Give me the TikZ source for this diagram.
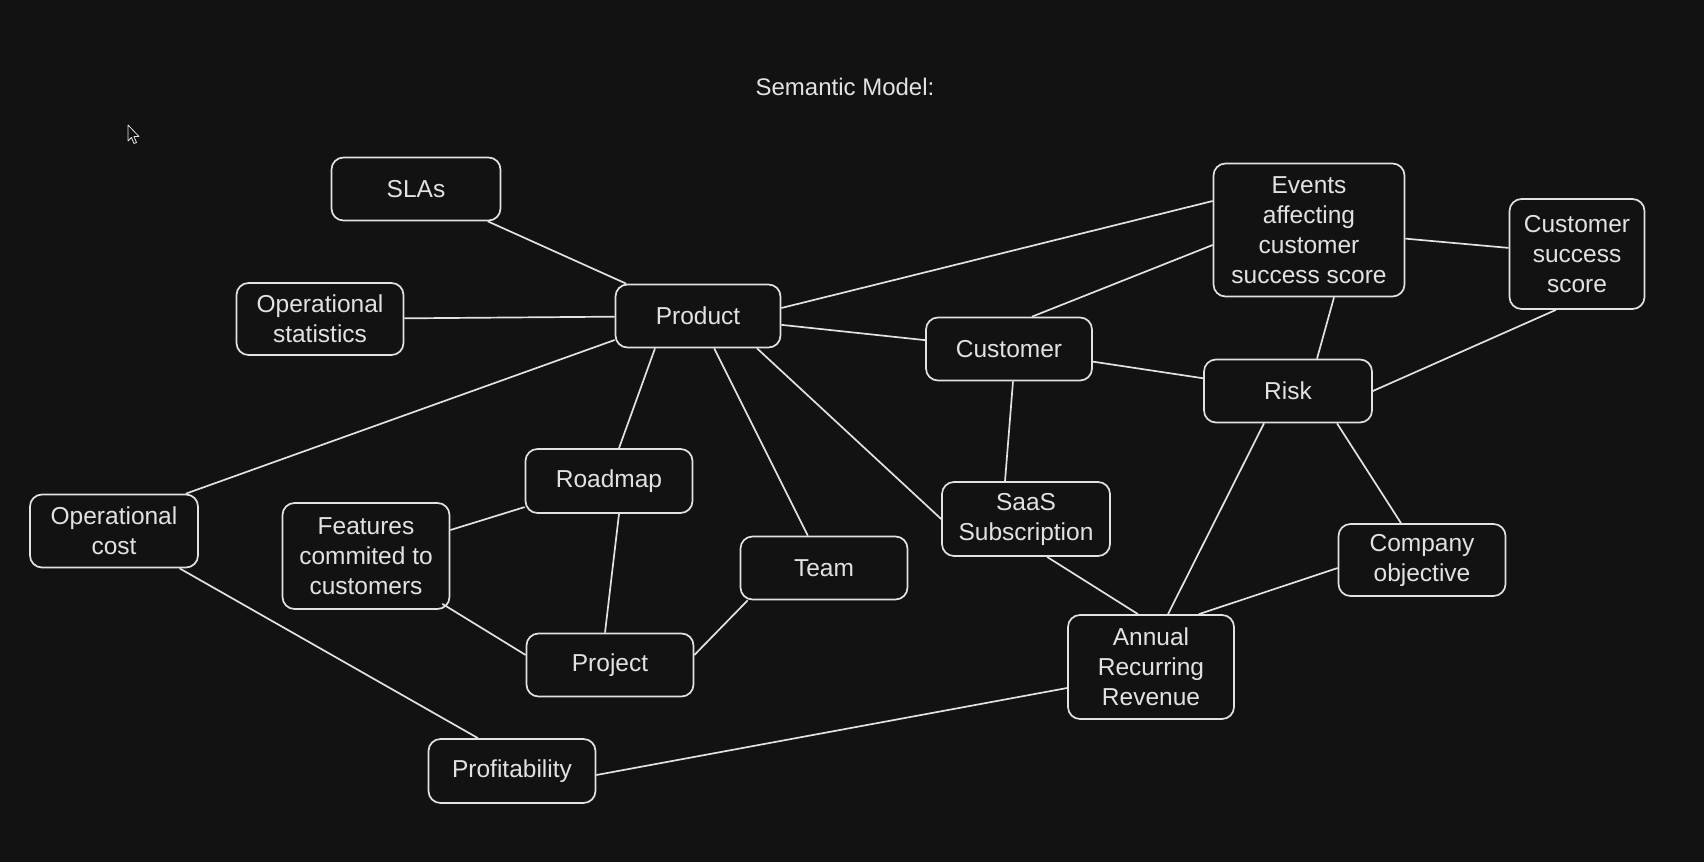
\documentclass[tikz,border=0pt]{standalone}
\usepackage{fontspec}
\setmainfont{Liberation Sans}
\definecolor{bg}{HTML}{121212}
\definecolor{fg}{HTML}{E2E2E2}
\begin{document}
\begin{tikzpicture}[x=1pt,y=-1pt,
  box/.style={draw=fg, line width=1.7pt, rounded corners=12pt, fill=bg, text=fg,
    align=center, font=\fontsize{24.5}{30}\selectfont, inner sep=2pt},
  link/.style={draw=fg, line width=1.7pt}]
\fill[bg] (0,0) rectangle (1704,862);
\useasboundingbox (0,0) rectangle (1704,862);

\node[text=fg, font=\fontsize{24}{28}\selectfont] (title) at (845,87) {Semantic Model:};

\node[box, minimum width=169pt, minimum height=63pt] (slas) at (416,189) {SLAs};
\node[box, minimum width=167pt, minimum height=72pt] (opstats) at (320,319) {Operational\\statistics};
\node[box, minimum width=165pt, minimum height=63pt] (product) at (698,316) {Product};
\node[box, minimum width=168pt, minimum height=73pt] (opcost) at (114,531) {Operational\\cost};
\node[box, minimum width=167pt, minimum height=106pt] (features) at (366,556) {Features\\commited to\\customers};
\node[box, minimum width=167pt, minimum height=64pt] (roadmap) at (609,481) {Roadmap};
\node[box, minimum width=167pt, minimum height=63pt] (project) at (610,665) {Project};
\node[box, minimum width=167pt, minimum height=63pt] (team) at (824,568) {Team};
\node[box, minimum width=167pt, minimum height=64pt] (profit) at (512,771) {Profitability};
\node[box, minimum width=166pt, minimum height=63pt] (customer) at (1009,349) {Customer};
\node[box, minimum width=168pt, minimum height=74pt] (saas) at (1026,519) {SaaS\\Subscription};
\node[box, minimum width=191pt, minimum height=133pt] (events) at (1309,230) {Events\\affecting\\customer\\success score};
\node[box, minimum width=135pt, minimum height=110pt] (css) at (1577,254) {Customer\\success\\score};
\node[box, minimum width=168pt, minimum height=63pt] (risk) at (1288,391) {Risk};
\node[box, minimum width=167pt, minimum height=72pt] (compobj) at (1422,560) {Company\\objective};
\node[box, minimum width=166pt, minimum height=104pt] (arr) at (1151,667) {Annual\\Recurring\\Revenue};

\draw[link] (slas) -- (product);
\draw[link] (opstats) -- (product);
\draw[link] ([xshift=-13pt]opcost.north east) -- ([yshift=-24pt]product.west);
\draw[link] ([xshift=-43pt]product.south) -- ([xshift=10pt]roadmap.north);
\draw[link] (product) -- (team);
\draw[link] ([xshift=59pt]product.south) -- (saas.west);
\draw[link] (product) -- (customer);
\draw[link] ([yshift=8pt]product.east) -- ([yshift=29pt]events.west);
\draw[link] (roadmap) -- (features);
\draw[link] ([xshift=10pt]roadmap.south) -- ([xshift=-5pt]project.north);
\draw[link] ([xshift=-8pt,yshift=6pt]features.south east) -- ([yshift=10pt]project.west);
\draw[link] ([yshift=10pt]project.east) -- ([xshift=8pt]team.south west);
\draw[link] (opcost) -- ([xshift=-34pt]profit.north);
\draw[link] ([yshift=-4pt]profit.east) -- ([yshift=-21pt]arr.west);
\draw[link] ([xshift=23pt]customer.north) -- ([yshift=-15pt]events.west);
\draw[link] (customer) -- (risk);
\draw[link] ([xshift=4pt]customer.south) -- ([xshift=-21pt]saas.north);
\draw[link] ([xshift=21pt]saas.south) -- ([xshift=-13pt]arr.north);
\draw[link] (events) -- (css);
\draw[link] ([xshift=25pt]events.south) -- ([xshift=29pt]risk.north);
\draw[link] ([xshift=-21pt]css.south) -- (risk.east);
\draw[link] ([xshift=-24pt]risk.south) -- ([xshift=17pt]arr.north);
\draw[link] ([xshift=49pt]risk.south) -- ([xshift=-21pt]compobj.north);
\draw[link] ([yshift=-8pt]compobj.west) -- ([xshift=-36pt]arr.north east);

% mouse cursor
\draw[fg, line width=0.8pt, line join=round]
  (128,125) -- (128,141) -- (131.5,137.5) -- (134,143.5) -- (136.5,142.5) -- (134,136.5) -- (139,136.5) -- cycle;
\end{tikzpicture}
\end{document}
